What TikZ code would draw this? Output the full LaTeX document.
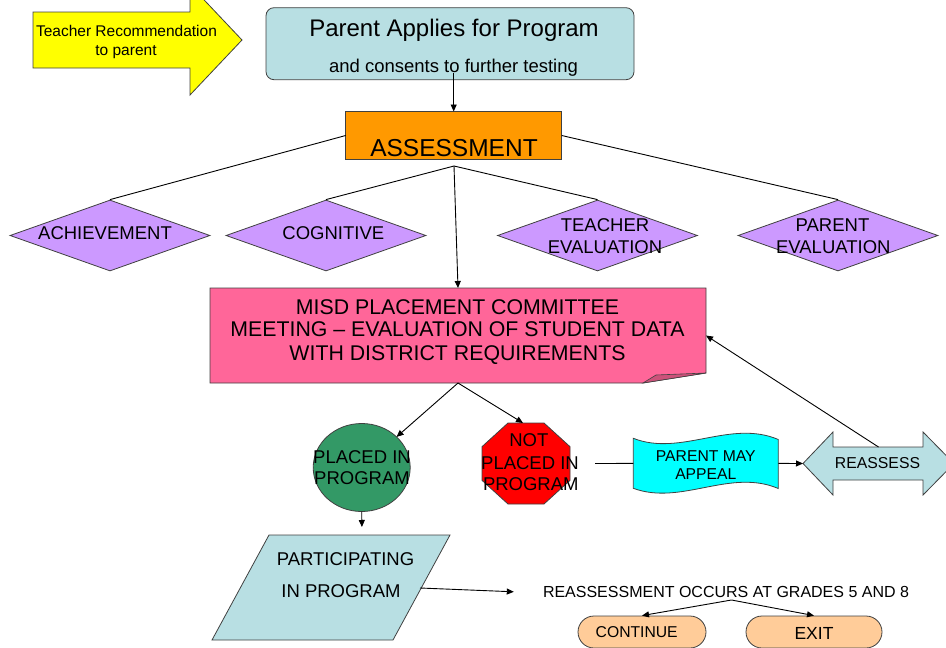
\documentclass[tikz,border=0pt]{standalone}
\usepackage{fontspec}
\setmainfont{Liberation Sans}
\usetikzlibrary{arrows.meta,shapes.geometric,calc}
\definecolor{lblue}{RGB}{184,223,227}
\definecolor{lav}{RGB}{204,153,255}
\definecolor{pinkb}{RGB}{255,102,153}
\definecolor{pinkd}{RGB}{204,82,122}
\definecolor{seag}{RGB}{51,153,102}
\definecolor{peach}{RGB}{255,204,153}
\definecolor{orng}{RGB}{255,153,0}
\definecolor{cyanb}{RGB}{0,255,255}
\definecolor{yellowb}{RGB}{255,255,0}
\definecolor{redb}{RGB}{255,0,0}
\begin{document}
\begin{tikzpicture}[x=1pt,y=-1pt,
  shp/.style={draw=black!75, line width=0.8pt},
  arr/.style={-{Triangle[length=7pt,width=6pt]}, line width=0.9pt},
  con/.style={line width=0.9pt},
  txt/.style={anchor=base, inner sep=0pt},
  box/.style={inner sep=0pt, outer sep=0pt},
  dia/.style={diamond, shp, fill=lav, minimum width=200, minimum height=71, inner sep=0pt},
  stad/.style={shp, fill=peach, rounded corners=16pt, minimum height=32, inner sep=0pt},
]
\useasboundingbox (0,0) rectangle (946,648);

% Teacher recommendation arrow
\fill[yellowb, draw=black!75, line width=0.8pt] (33,12) -- (190,12) -- (190,-15) -- (242,40) -- (190,95) -- (190,68) -- (33,68) -- cycle;
\node[txt, font=\fontsize{15.5}{18}\selectfont] (tr1) at (126.5,36) {Teacher Recommendation};
\node[txt, font=\fontsize{15.5}{18}\selectfont] (tr2) at (126,55) {to parent};

% Parent applies
\node[shp, fill=lblue, rounded corners=8pt, minimum width=368, minimum height=72, box] (parent) at (450,43.7) {};
\node[txt, font=\fontsize{24}{28}\selectfont] (pt1) at (454,36) {Parent Applies for Program};
\node[txt, font=\fontsize{18.5}{22}\selectfont] (pt2) at (453.5,72) {and consents to further testing};

% Assessment
\node[shp, fill=orng, minimum width=216, minimum height=48, box] (assess) at (453.7,135.5) {};
\node[txt, font=\fontsize{24.5}{28}\selectfont] (at) at (454,156) {ASSESSMENT};
\coordinate (hub) at (454,166);

% Diamonds
\node[dia] (ach) at (110,235.5) {};
\node[dia] (cog) at (326,235.5) {};
\node[dia] (tev) at (597.5,235.5) {};
\node[dia] (pev) at (838,235.5) {};
\node[txt, font=\fontsize{18.5}{22}\selectfont] (acht) at (105,239.3) {ACHIEVEMENT};
\node[txt, font=\fontsize{18.5}{22}\selectfont] (cogt) at (333.3,239.3) {COGNITIVE};
\node[txt, font=\fontsize{18.5}{22}\selectfont] (tevt1) at (605,231.7) {TEACHER};
\node[txt, font=\fontsize{18.5}{22}\selectfont] (tevt2) at (605,253.3) {EVALUATION};
\node[txt, font=\fontsize{18.5}{22}\selectfont] (pevt1) at (832.5,231.7) {PARENT};
\node[txt, font=\fontsize{18.5}{22}\selectfont] (pevt2) at (833.3,253.3) {EVALUATION};

% MISD committee
\fill[pinkb, draw=black!75, line width=0.8pt] (210,288) -- (706,288) -- (706,373) -- (643,383) -- (210,383) -- cycle;
\fill[pinkd, draw=black!75, line width=0.6pt] (643,383) -- (656,375) -- (706,373) -- cycle;
\node[box, minimum width=496, minimum height=95] (misd) at (458,335.5) {};
\node[txt, font=\fontsize{21.3}{25}\selectfont] (mt1) at (457.5,314.3) {MISD PLACEMENT COMMITTEE};
\node[txt, font=\fontsize{21.3}{25}\selectfont] (mt2) at (457.5,336.7) {MEETING – EVALUATION OF STUDENT DATA};
\node[txt, font=\fontsize{21.3}{25}\selectfont] (mt3) at (457.5,360) {WITH DISTRICT REQUIREMENTS};

% Placed in program
\node[ellipse, shp, fill=seag, minimum width=97, minimum height=88, box] (circ) at (361.7,467.5) {};
\node[txt, font=\fontsize{18.5}{22}\selectfont] (ct1) at (362,463.3) {PLACED IN};
\node[txt, font=\fontsize{18.5}{22}\selectfont] (ct2) at (362,484) {PROGRAM};

% Not placed (octagon)
\fill[redb, draw=black!75, line width=0.8pt] (508,423) -- (544,423) -- (570,446.7) -- (570,480.3) -- (544,504) -- (508,504) -- (482,480.3) -- (482,446.7) -- cycle;
\node[box, minimum width=88, minimum height=81] (notp) at (526,463.5) {};
\node[txt, font=\fontsize{18.5}{22}\selectfont] (nt1) at (528.8,446.7) {NOT};
\node[txt, font=\fontsize{18.5}{22}\selectfont] (nt2) at (530,469.3) {PLACED IN};
\node[txt, font=\fontsize{18.5}{22}\selectfont] (nt3) at (530.8,490) {PROGRAM};

% Parent may appeal (wave)
\fill[cyanb, draw=black!75, line width=0.8pt] (633.3,438.3) .. controls (681,457) and (730,419) .. (778.3,439.5) -- (778.3,488.5) .. controls (730,468) and (681,506) .. (633.3,488.3) -- cycle;
\node[box, minimum width=145, minimum height=50] (appeal) at (705.8,463.4) {};
\node[txt, font=\fontsize{15.7}{19}\selectfont] (apt1) at (705.8,461.7) {PARENT MAY};
\node[txt, font=\fontsize{15.7}{19}\selectfont] (apt2) at (705.8,479.3) {APPEAL};

% Reassess double arrow
\fill[lblue, draw=black!75, line width=0.8pt] (803,463.5) -- (833,432) -- (833,447) -- (923,447) -- (923,432) -- (954,463.5) -- (923,495) -- (923,480) -- (833,480) -- (833,495) -- cycle;
\node[box, minimum width=151, minimum height=33] (reass) at (878.5,463.5) {};
\node[txt, font=\fontsize{15.8}{19}\selectfont] (rt) at (877.5,468.3) {REASSESS};

% Participating
\fill[lblue, draw=black!75, line width=0.8pt] (269,535) -- (450,535) -- (393,640) -- (212,640) -- cycle;
\coordinate (ptop) at (362,535);
\coordinate (pright) at (420,588);
\node[txt, font=\fontsize{18.5}{22}\selectfont] (pp1) at (345.5,565) {PARTICIPATING};
\node[txt, font=\fontsize{18.5}{22}\selectfont] (pp2) at (341,597.3) {IN PROGRAM};

% Reassessment text and outcomes
\node[txt, font=\fontsize{16}{19}\selectfont] (reasst) at (726,597.3) {REASSESSMENT OCCURS AT GRADES 5 AND 8};
\coordinate (rs) at (731.5,600);
\node[stad, minimum width=128] (cont) at (642,632) {};
\node[stad, minimum width=136] (exit) at (814,632) {};
\node[txt, font=\fontsize{15.7}{19}\selectfont] (contt) at (636.7,637.3) {CONTINUE};
\node[txt, font=\fontsize{17.5}{21}\selectfont] (exitt) at (814,639.3) {EXIT};

% Connectors
\draw[arr] ($(assess.north |- parent.south)+(0,-7)$) -- (assess.north);
\draw[con] (assess.west) -- (ach.north);
\draw[con] (assess.east) -- (pev.north);
\draw[con] (hub) -- (cog.north);
\draw[con] (hub) -- (tev.north);
\draw[arr] (hub) -- (misd.north);
\draw[arr] (reass.north) -- (misd.east);
\draw[arr] (misd.south) -- (circ);
\draw[arr] (misd.south) -- ($(notp.north)+(-3,0)$);
\draw[con] ($(notp.east)+(25,0)$) -- (appeal.west);
\draw[arr] (appeal.east) -- (reass.west);
\draw[arr, shorten >=8pt] (circ.south) -- (ptop);
\draw[arr] (pright) -- ($(reasst.west)+(-29,0)$);
\draw[arr] (rs) -- (cont.north);
\draw[arr] (rs) -- (exit.north);
\end{tikzpicture}
\end{document}
